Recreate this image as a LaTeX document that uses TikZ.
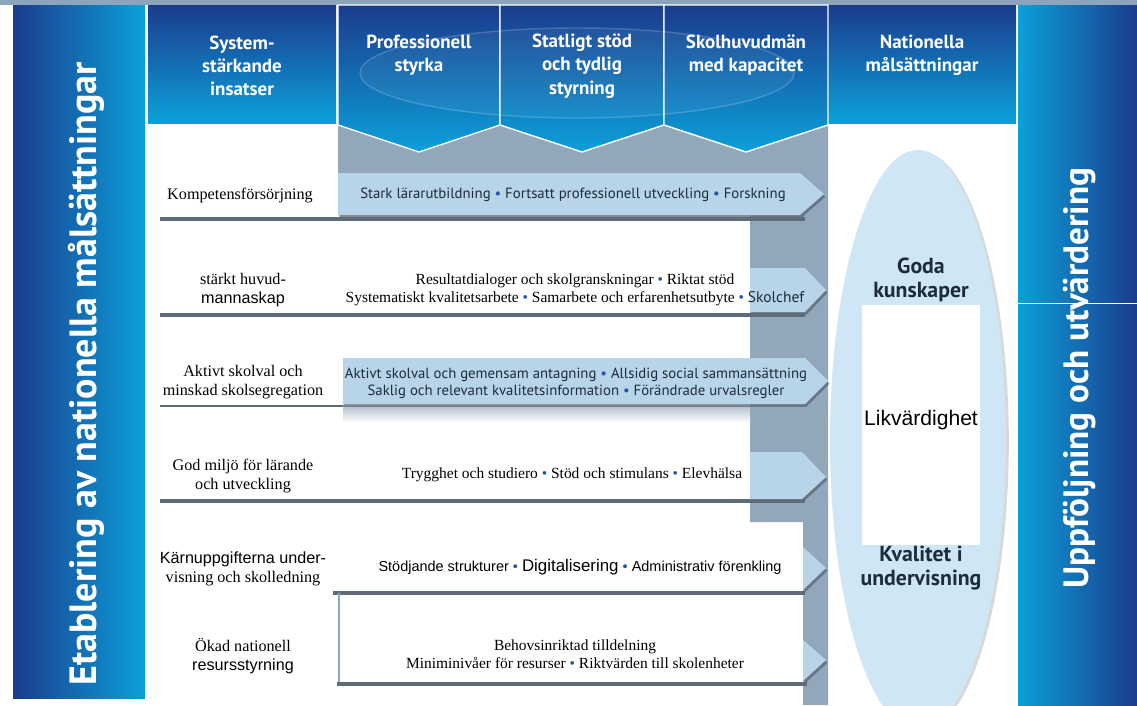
\documentclass[tikz,border=0pt]{standalone}
\usepackage{fontspec}
\setmainfont{Liberation Serif}
\setsansfont{PT Sans}
\newfontfamily\arial{Liberation Sans}
\usetikzlibrary{shapes,calc,positioning,arrows,shadows}

\definecolor{navy}{HTML}{1B3C8C}
\definecolor{skyblue}{HTML}{0BA0DA}
\definecolor{bandgrey}{HTML}{93A7BA}
\definecolor{arrowblue}{HTML}{B8D4E8}
\definecolor{rulegrey}{HTML}{5E6C79}
\definecolor{ovalblue}{HTML}{CFE7F5}
\definecolor{stripgrey}{HTML}{8DA5BA}
\definecolor{dotblue}{HTML}{2456A6}
\definecolor{textdark}{HTML}{1E2B3A}

\newcommand{\dotmark}{{\color{dotblue}\textbullet}}

\begin{document}
\begin{tikzpicture}[x=0.025cm, y=-0.025cm,
   head/.style={text=white, align=center, font=\sffamily\bfseries\fontsize{13.5}{16.5}\selectfont},
   side/.style={text=white, rotate=90, font=\sffamily\bfseries\fontsize{27}{30}\selectfont},
   rowlabel/.style={align=center, font=\fontsize{11.5}{13}\selectfont},
   rowtext/.style={align=center, font=\fontsize{11}{12.6}\selectfont},
   bandtext/.style={align=center, text=textdark, font=\sffamily\fontsize{10.5}{12.3}\selectfont},
   arialtext/.style={align=center, font=\arial\fontsize{10.3}{12}\selectfont},
   goal/.style={align=center, text=textdark, font=\sffamily\bfseries\fontsize{15.5}{17.5}\selectfont},
   rule/.style={rulegrey, line width=3pt},
   band/.style={fill=arrowblue, drop shadow={shadow xshift=1pt, shadow yshift=-2pt, fill=rulegrey, opacity=0.8}}]

  \useasboundingbox (0,0) rectangle (1137,705);
  \clip (0,0) rectangle (1137,705);
  \fill[white] (0,0) rectangle (1137,705);
  \fill[stripgrey] (0,0) rectangle (1137,5);

  % side bars
  \shade[left color=navy, right color=skyblue] (13,5) rectangle (145,698);
  \shade[left color=skyblue, right color=navy] (1018,5) rectangle (1137,705);
  \draw[white, line width=0.6pt] (828,303) -- (1137,303);

  % grey band behind the chevrons
  \fill[bandgrey] (338,120) -- (828,120) -- (828,705) -- (803,705) -- (803,522)
    -- (750,522) -- (750,215) -- (338,215) -- cycle;

  % header boxes
  \shade[top color=navy, bottom color=skyblue] (148,5) rectangle (336,123);
  \shade[top color=navy, bottom color=skyblue] (828,5) rectangle (1016,123);
  \shade[top color=navy, bottom color=skyblue, draw=white, line width=1pt]
    (338,5) -- (500,5) -- (500,125) -- (419,152) -- (338,125) -- cycle;
  \shade[top color=navy, bottom color=skyblue, draw=white, line width=1pt]
    (500,5) -- (664,5) -- (664,125) -- (582,152) -- (500,125) -- cycle;
  \shade[top color=navy, bottom color=skyblue, draw=white, line width=1pt]
    (664,5) -- (828,5) -- (828,125) -- (746,152) -- (664,125) -- cycle;
  \draw[white, opacity=0.18, fill=white, fill opacity=0.05, line width=1pt]
    (577,73) ellipse [x radius=217, y radius=45];

  % row rules
  \draw[rule] (160,219) -- (805,219);
  \draw[rule] (160,315) -- (805,315);
  \draw[rulegrey, line width=1.5pt] (160,406) -- (345,406);
  \draw[rule] (160,501) -- (805,501);
  \draw[rule] (333,593) -- (805,593);
  \draw[bandgrey, line width=1.5pt] (339,593) -- (339,684);
  \draw[rule] (337,684) -- (807,684);
  \shade[top color=bandgrey!70, bottom color=white] (343,406) rectangle (750,423);

  % arrows
  \fill[band] (338,173) -- (800,173) -- (824,194) -- (800,215) -- (338,215) -- cycle;
  \fill[band] (750,268) -- (805,268) -- (826,290) -- (805,312) -- (750,312) -- cycle;
  \fill[band] (343,358) -- (805,358) -- (828,381) -- (805,404) -- (343,404) -- cycle;
  \fill[band] (750,452) -- (802,452) -- (826,477) -- (802,499) -- (750,499) -- cycle;
  \fill[band] (803,547) -- (826,568) -- (803,590) -- cycle;
  \fill[band] (803,640) -- (826,660) -- (803,681) -- cycle;

  % goals
  \fill[ovalblue, drop shadow={shadow xshift=2pt, shadow yshift=-1pt, opacity=0.3}]
    (918,440) ellipse [x radius=88, y radius=290];
  \fill[white] (862,305) rectangle (980,545);

  % texts
  \node[head] (hsys) at (242,66) {System-\\stärkande\\insatser};
  \node[head] (hprof) at (419,55) {Professionell\\styrka};
  \node[head] (hstat) at (582,66) {Statligt stöd\\och tydlig\\styrning};
  \node[head] (hskol) at (746,55) {Skolhuvudmän\\med kapacitet};
  \node[head] (hnat) at (922,55) {Nationella\\målsättningar};

  \node[side] (etab) at (86,374) {Etablering av nationella målsättningar};
  \node[side, font=\sffamily\bfseries\fontsize{25}{28}\selectfont] (uppf) at (1080,378) {Uppföljning och utvärdering};

  \node[rowlabel] (komp) at (240,196) {Kompetensförsörjning};
  \node[bandtext] (komptext) at (573,195)
    {Stark lärarutbildning \dotmark{} Fortsatt professionell utveckling \dotmark{} Forskning};

  \node[rowlabel] (huvud) at (243,290) {stärkt huvud-\\{\arial mannaskap}};
  \node[rowtext] (huvudtext) at (575,290)
    {Resultatdialoger och skolgranskningar \dotmark{} Riktat stöd\\
     Systematiskt kvalitetsarbete \dotmark{} Samarbete och erfarenhetsutbyte \dotmark{} {\sffamily\color{textdark}Skolchef}};

  \node[rowlabel] (aktiv) at (243,382) {Aktivt skolval och\\minskad skolsegregation};
  \node[bandtext] (aktivtext) at (576,383)
    {Aktivt skolval och gemensam antagning \dotmark{} Allsidig social sammansättning\\
     Saklig och relevant kvalitetsinformation \dotmark{} Förändrade urvalsregler};

  \node[rowlabel] (miljo) at (243,476) {God miljö för lärande\\och utveckling};
  \node[rowtext] (miljotext) at (572,475)
    {Trygghet och studiero \dotmark{} Stöd och stimulans \dotmark{} Elevhälsa};

  \node[rowlabel] (karn) at (243,569) {{\arial Kärnuppgifterna under-}\\visning och skolledning};
  \node[arialtext] (karntext) at (580,567)
    {Stödjande strukturer \dotmark{} {\fontsize{12}{14}\selectfont Digitalisering} \dotmark{} Administrativ förenkling};

  \node[rowlabel] (resurs) at (243,656) {Ökad nationell\\{\arial resursstyrning}};
  \node[rowtext] (resurstext) at (575,654)
    {Behovsinriktad tilldelning\\Miniminivåer för resurser \dotmark{} Riktvärden till skolenheter};

  \node[goal] (goda) at (921,280) {Goda\\kunskaper};
  \node[font=\arial\fontsize{15}{17}\selectfont] (likv) at (921,420) {Likvärdighet};
  \node[goal] (kval) at (921,568) {Kvalitet i\\undervisning};
\end{tikzpicture}
\end{document}
